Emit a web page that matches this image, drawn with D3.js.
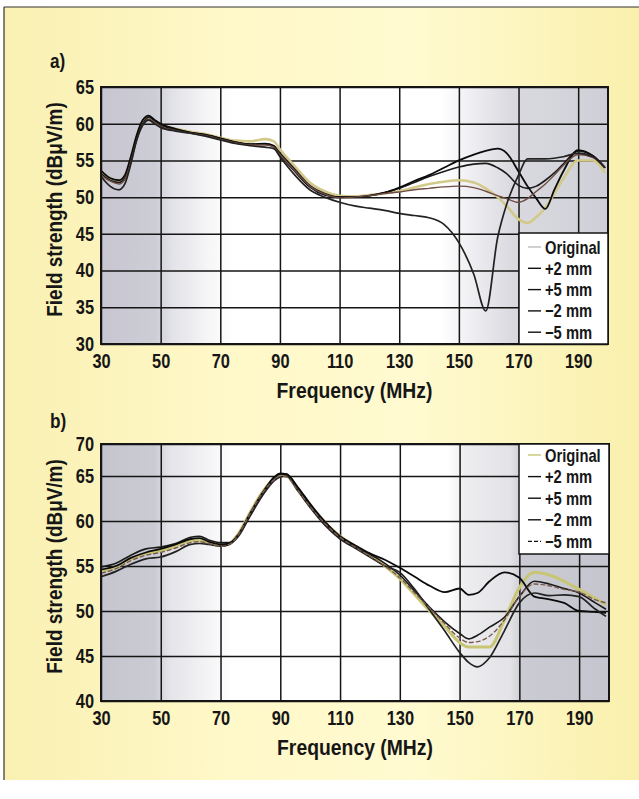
<!DOCTYPE html>
<html>
<head>
<meta charset="utf-8">
<script src="https://cdnjs.cloudflare.com/ajax/libs/d3/7.8.5/d3.min.js"></script>
<style>
  body { margin: 0; background: #fff; }
  svg { display: block; }
  text { font-family: "Liberation Sans", Arial, sans-serif; font-weight: bold; fill: #161616; }
</style>
</head>
<body>
<svg width="639" height="799"></svg>
<script>

// ---- data ----
var seriesNames = ["Original", "+2 mm", "+5 mm", "\u22122 mm", "\u22125 mm"];
var xTicks = [30, 50, 70, 90, 110, 130, 150, 170, 190];
var yTicksA = [30, 35, 40, 45, 50, 55, 60, 65];
var yTicksB = [40, 45, 50, 55, 60, 65, 70];

// panel a)
var freqA   = [30,   33,   36,   38,   40,   42,   44,   46,   48,   50,   55,   60,   65,   70,   75,   80,   85,   88,   90,   95,   100,  105,  110,  115,  120,  125,  130,  135,  140,  145,  150,  155,  159,  163,  166,  170,  173,  176,  179,  182,  185,  190,  195,  199];
var origA   = [53.5, 52.6, 52.2, 52.8, 55.0, 58.0, 60.0, 60.8, 60.3, 59.8, 59.3, 58.9, 58.6, 58.1, 57.7, 57.6, 57.9, 57.6, 56.5, 54.2, 52.0, 50.8, 50.2, 50.1, 50.3, 50.5, 50.8, 51.3, 51.8, 52.1, 52.3, 52.0, 51.2, 50.0, 48.8, 47.0, 46.5, 47.3, 48.6, 50.5, 52.5, 55.0, 55.0, 53.3];
var plus2A  = [53.2, 52.3, 52.0, 52.6, 55.0, 58.0, 60.0, 60.9, 60.4, 59.8, 59.2, 58.8, 58.5, 58.0, 57.5, 57.2, 57.2, 56.9, 56.0, 53.8, 51.6, 50.5, 50.0, 50.0, 50.2, 50.6, 51.2, 52.0, 52.8, 53.5, 54.1, 54.5, 54.6, 54.0, 53.2, 51.6, 51.2, 51.5, 52.3, 53.3, 54.5, 56.3, 55.6, 54.0];
var plus5A  = [53.6, 52.6, 52.3, 53.0, 55.5, 58.5, 60.5, 61.1, 60.5, 60.0, 59.3, 58.8, 58.5, 58.0, 57.5, 57.2, 57.3, 57.0, 55.8, 53.5, 51.4, 50.3, 50.0, 50.0, 50.2, 50.6, 51.3, 52.2, 53.0, 54.0, 55.0, 55.8, 56.3, 56.6, 56.0, 53.5, 51.5, 49.8, 48.4, 51.0, 53.5, 56.4, 55.6, 54.0];
var minus2A = [53.0, 52.2, 51.8, 52.4, 54.8, 57.8, 59.8, 60.6, 60.2, 59.6, 59.1, 58.7, 58.4, 57.9, 57.4, 57.1, 57.1, 56.8, 55.8, 53.6, 51.5, 50.4, 49.9, 50.0, 50.2, 50.5, 50.7, 51.0, 51.2, 51.4, 51.5, 51.3, 50.8, 50.2, 49.8, 49.3, 49.8, 50.8, 51.8, 53.0, 54.3, 55.8, 55.4, 54.0];
var minus5A = [52.8, 51.5, 51.0, 51.8, 54.5, 57.8, 59.8, 60.5, 60.0, 59.5, 59.0, 58.7, 58.3, 57.8, 57.3, 57.0, 56.8, 56.6, 55.5, 53.0, 51.0, 50.0, 49.3, 48.8, 48.5, 48.2, 47.8, 47.5, 47.2, 46.3, 43.8, 39.5, 34.5, 44.5, 49.0, 53.0, 55.2, 55.2, 55.2, 55.3, 55.5, 56.0, 55.5, 54.0];

// panel b)
var freqB   = [30,   35,   40,   45,   50,   55,   60,   63,   66,   70,   73,   76,   80,   84,   88,   90,   92,   96,   100,  105,  110,  115,  120,  125,  130,  135,  140,  145,  150,  153,  156,  160,  165,  170,  175,  180,  185,  190,  195,  199];
var origB   = [54.4, 54.9, 55.8, 56.4, 56.7, 57.2, 57.8, 57.8, 57.6, 57.3, 57.5, 58.6, 61.0, 63.2, 64.7, 65.0, 65.0, 63.4, 61.7, 59.8, 58.3, 57.2, 56.2, 55.0, 53.6, 51.8, 50.0, 48.3, 46.5, 46.0, 46.0, 46.0, 49.0, 52.6, 54.3, 54.0, 53.3, 52.4, 51.5, 50.7];
var plus2B  = [54.9, 55.3, 56.2, 56.9, 57.1, 57.5, 58.2, 58.3, 57.9, 57.6, 57.6, 58.5, 60.8, 63.0, 64.8, 65.3, 65.3, 63.6, 61.8, 59.7, 58.2, 57.1, 56.3, 55.3, 54.0, 52.2, 50.4, 48.8, 47.5, 46.9, 47.3, 48.2, 49.3, 51.6, 53.3, 53.0, 52.5, 52.0, 51.0, 50.2];
var plus5B  = [54.6, 55.0, 55.9, 56.5, 56.9, 57.4, 58.0, 58.1, 57.7, 57.4, 57.5, 58.5, 60.9, 63.1, 64.9, 65.4, 65.3, 63.7, 61.9, 59.9, 58.3, 57.3, 56.4, 55.7, 54.8, 53.8, 52.8, 52.1, 52.5, 51.8, 52.0, 53.3, 54.3, 53.7, 51.6, 51.3, 50.9, 50.0, 49.9, 49.8];
var minus2B = [53.8, 54.4, 55.2, 55.8, 56.0, 56.6, 57.4, 57.5, 57.4, 57.2, 57.4, 58.3, 60.6, 62.8, 64.5, 64.9, 65.0, 63.3, 61.5, 59.5, 58.0, 57.0, 56.0, 55.0, 54.3, 52.4, 50.1, 47.8, 45.4, 44.3, 43.8, 44.8, 47.8, 50.9, 52.0, 51.7, 51.8, 51.6, 50.3, 49.4];
var minus5B = [54.2, 54.7, 55.6, 56.2, 56.5, 57.0, 57.6, 57.7, 57.5, 57.2, 57.4, 58.5, 60.9, 63.1, 64.6, 65.0, 64.9, 63.3, 61.6, 59.7, 58.2, 57.1, 56.1, 55.0, 53.7, 52.0, 50.3, 48.6, 47.0, 46.5, 46.6, 47.2, 49.0, 51.6, 53.0, 52.8, 52.4, 52.1, 51.3, 50.9];

// ---- styles ----
var stylesA = [
  { color: "#d2c98a", width: 2.6, dash: null },
  { color: "#1b1b1b", width: 1.6, dash: null },
  { color: "#0b0b0b", width: 1.8, dash: null },
  { color: "#6f4c44", width: 1.4, dash: null },
  { color: "#222222", width: 1.7, dash: null }
];
var stylesB = [
  { color: "#c8c674", width: 3.0, dash: null },
  { color: "#1b1b1b", width: 1.6, dash: null },
  { color: "#0b0b0b", width: 1.8, dash: null },
  { color: "#222222", width: 1.7, dash: null },
  { color: "#7a5a50", width: 1.4, dash: "5,2" }
];

var NARROW = 0.82;   // squeeze bold sans to look like a condensed face

var svg = d3.select("svg");
var defs = svg.append("defs");

// page background
var pg = defs.append("linearGradient").attr("id", "page").attr("x1", "0").attr("x2", "1").attr("y1", "0").attr("y2", "0");
[["0%", "#f9f0b2"], ["35%", "#fff8c8"], ["65%", "#fffad0"], ["100%", "#f9f0ac"]].forEach(function (s) {
  pg.append("stop").attr("offset", s[0]).attr("stop-color", s[1]);
});
svg.append("rect").attr("x", 4).attr("y", 7).attr("width", 635).attr("height", 773).attr("fill", "url(#page)");
svg.append("line").attr("x1", 4).attr("x2", 639).attr("y1", 7).attr("y2", 7).attr("stroke", "#333").attr("stroke-width", 1.2);
svg.append("line").attr("x1", 4).attr("x2", 4).attr("y1", 7).attr("y2", 780).attr("stroke", "#333").attr("stroke-width", 1.2);

// text placed at (x,y), squeezed horizontally
function narrowText(parent, x, y, size, str, anchor, rot) {
  var t = parent.append("text")
      .attr("transform", "translate(" + x + "," + y + ")" + (rot ? " rotate(" + rot + ")" : "") + " scale(" + NARROW + ",1)")
      .attr("font-size", size)
      .attr("text-anchor", anchor || "start")
      .text(str);
  return t;
}

function drawPanel(cfg) {
  var x = d3.scaleLinear().domain([30, 200]).range([cfg.left, cfg.right]);
  var y = d3.scaleLinear().domain(cfg.yDomain).range(cfg.yRange);
  var top = cfg.yRange[cfg.yRange.length - 1], bottom = cfg.yRange[0];
  var w = cfg.right - cfg.left, h = bottom - top;

  // grey shading of the plot area
  var gr = defs.append("linearGradient").attr("id", cfg.id + "bg")
      .attr("gradientUnits", "userSpaceOnUse")
      .attr("x1", cfg.left).attr("x2", cfg.right).attr("y1", 0).attr("y2", 0);
  cfg.shade.forEach(function (s) {
    gr.append("stop").attr("offset", (x(s[0]) - cfg.left) / w).attr("stop-color", s[1]);
  });
  svg.append("rect").attr("x", cfg.left).attr("y", top).attr("width", w).attr("height", h)
      .attr("fill", "url(#" + cfg.id + "bg)");

  var g = svg.append("g");

  // grid + axes
  var ax = g.append("g").attr("transform", "translate(0," + bottom + ")")
      .call(d3.axisBottom(x).tickValues(xTicks).tickSize(-h).tickPadding(10));
  var ay = g.append("g").attr("transform", "translate(" + cfg.left + ",0)")
      .call(d3.axisLeft(y).tickValues(cfg.yTicks).tickSize(-w).tickPadding(7));
  [ax, ay].forEach(function (a) {
    a.attr("font-family", null).attr("font-size", null);
    a.select(".domain").remove();
    a.selectAll(".tick line").attr("stroke", "#151515").attr("stroke-width", 1.5);
    a.selectAll(".tick text")
        .attr("font-size", 20).attr("fill", "#161616")
        .attr("transform", "scale(" + NARROW + ",1)")
        .attr("x", function () { return +d3.select(this).attr("x") / NARROW || 0; });
  });

  // curves
  cfg.series.forEach(function (vals, i) {
    var st = cfg.styles[i];
    var line = d3.line()
        .x(function (d, j) { return x(cfg.freq[j]); })
        .y(function (d) { return y(d); })
        .curve(d3.curveMonotoneX);
    g.append("path").datum(vals)
        .attr("d", line)
        .attr("fill", "none")
        .attr("stroke", st.color)
        .attr("stroke-width", st.width)
        .attr("stroke-dasharray", st.dash)
        .attr("stroke-linejoin", "round");
  });

  // frame
  g.append("rect").attr("x", cfg.left).attr("y", top).attr("width", w).attr("height", h)
      .attr("fill", "none").attr("stroke", "#151515").attr("stroke-width", 2);

  // legend
  var lg = g.append("g");
  lg.append("rect").attr("x", cfg.legend.x).attr("y", cfg.legend.y)
      .attr("width", cfg.right - cfg.legend.x).attr("height", cfg.legend.h)
      .attr("fill", "#fff").attr("stroke", "#151515").attr("stroke-width", 1.5);
  seriesNames.forEach(function (name, i) {
    var cy = cfg.legend.y + cfg.legend.first + i * cfg.legend.step;
    var st = cfg.legendStyles[i];
    lg.append("line").attr("x1", cfg.legend.x + 9).attr("x2", cfg.legend.x + 22)
        .attr("y1", cy).attr("y2", cy)
        .attr("stroke", st.color).attr("stroke-width", 1.4).attr("stroke-dasharray", st.dash);
    narrowText(lg, cfg.legend.x + 26, cy + 6.5, 18, name);
  });

  // titles
  narrowText(svg, 50, cfg.tagY, 21, cfg.tag);
  svg.append("g").attr("transform", "translate(" + ((cfg.left + cfg.right) / 2) + "," + (bottom + 54) + ")")
    .append("text").attr("text-anchor", "middle").attr("font-size", 22)
      .attr("transform", "scale(0.88,1)").text("Frequency (MHz)");
  svg.append("g").attr("transform", "translate(62," + (top + h / 2 - 6) + ") rotate(-90)")
    .append("text").attr("text-anchor", "middle").attr("font-size", 21.5)
      .attr("transform", "scale(0.88,1)").text("Field strength (dB\u03bcV/m)");
}

drawPanel({
  id: "a", tag: "a)", tagY: 68,
  left: 101, right: 608,
  yDomain: [30, 65], yRange: [344, 87], yTicks: yTicksA,
  freq: freqA, series: [origA, plus2A, plus5A, minus2A, minus5A],
  styles: stylesA,
  legendStyles: [{ color: "#bdbdbd" }, { color: "#111" }, { color: "#111" }, { color: "#111" }, { color: "#111" }],
  legend: { x: 519, y: 233, h: 111, first: 14, step: 21.3 },
  shade: [[30, "#c7c6d1"], [48, "#cdcdd6"], [54, "#e2e2e8"], [66, "#f6f6f7"], [74, "#ffffff"], [144, "#ffffff"], [156, "#ececf0"], [168, "#d9d9df"], [200, "#cfcfd7"]]
});

drawPanel({
  id: "b", tag: "b)", tagY: 428,
  left: 101, right: 609,
  yDomain: [40, 65, 70], yRange: [701, 476, 444], yTicks: yTicksB,
  freq: freqB, series: [origB, plus2B, plus5B, minus2B, minus5B],
  styles: stylesB,
  legendStyles: [{ color: "#c8c674" }, { color: "#111" }, { color: "#111" }, { color: "#111" }, { color: "#111", dash: "4,2" }],
  legend: { x: 519, y: 444, h: 110, first: 11, step: 21.6 },
  shade: [[30, "#c5c5cf"], [48, "#cbcbd4"], [53, "#e4e4e9"], [66, "#f4f4f6"], [74, "#ffffff"], [146, "#ffffff"], [152, "#ededf0"], [167, "#e3e3e7"], [171, "#cbcbd3"], [200, "#c5c5cf"]]
});

</script>
</body>
</html>
